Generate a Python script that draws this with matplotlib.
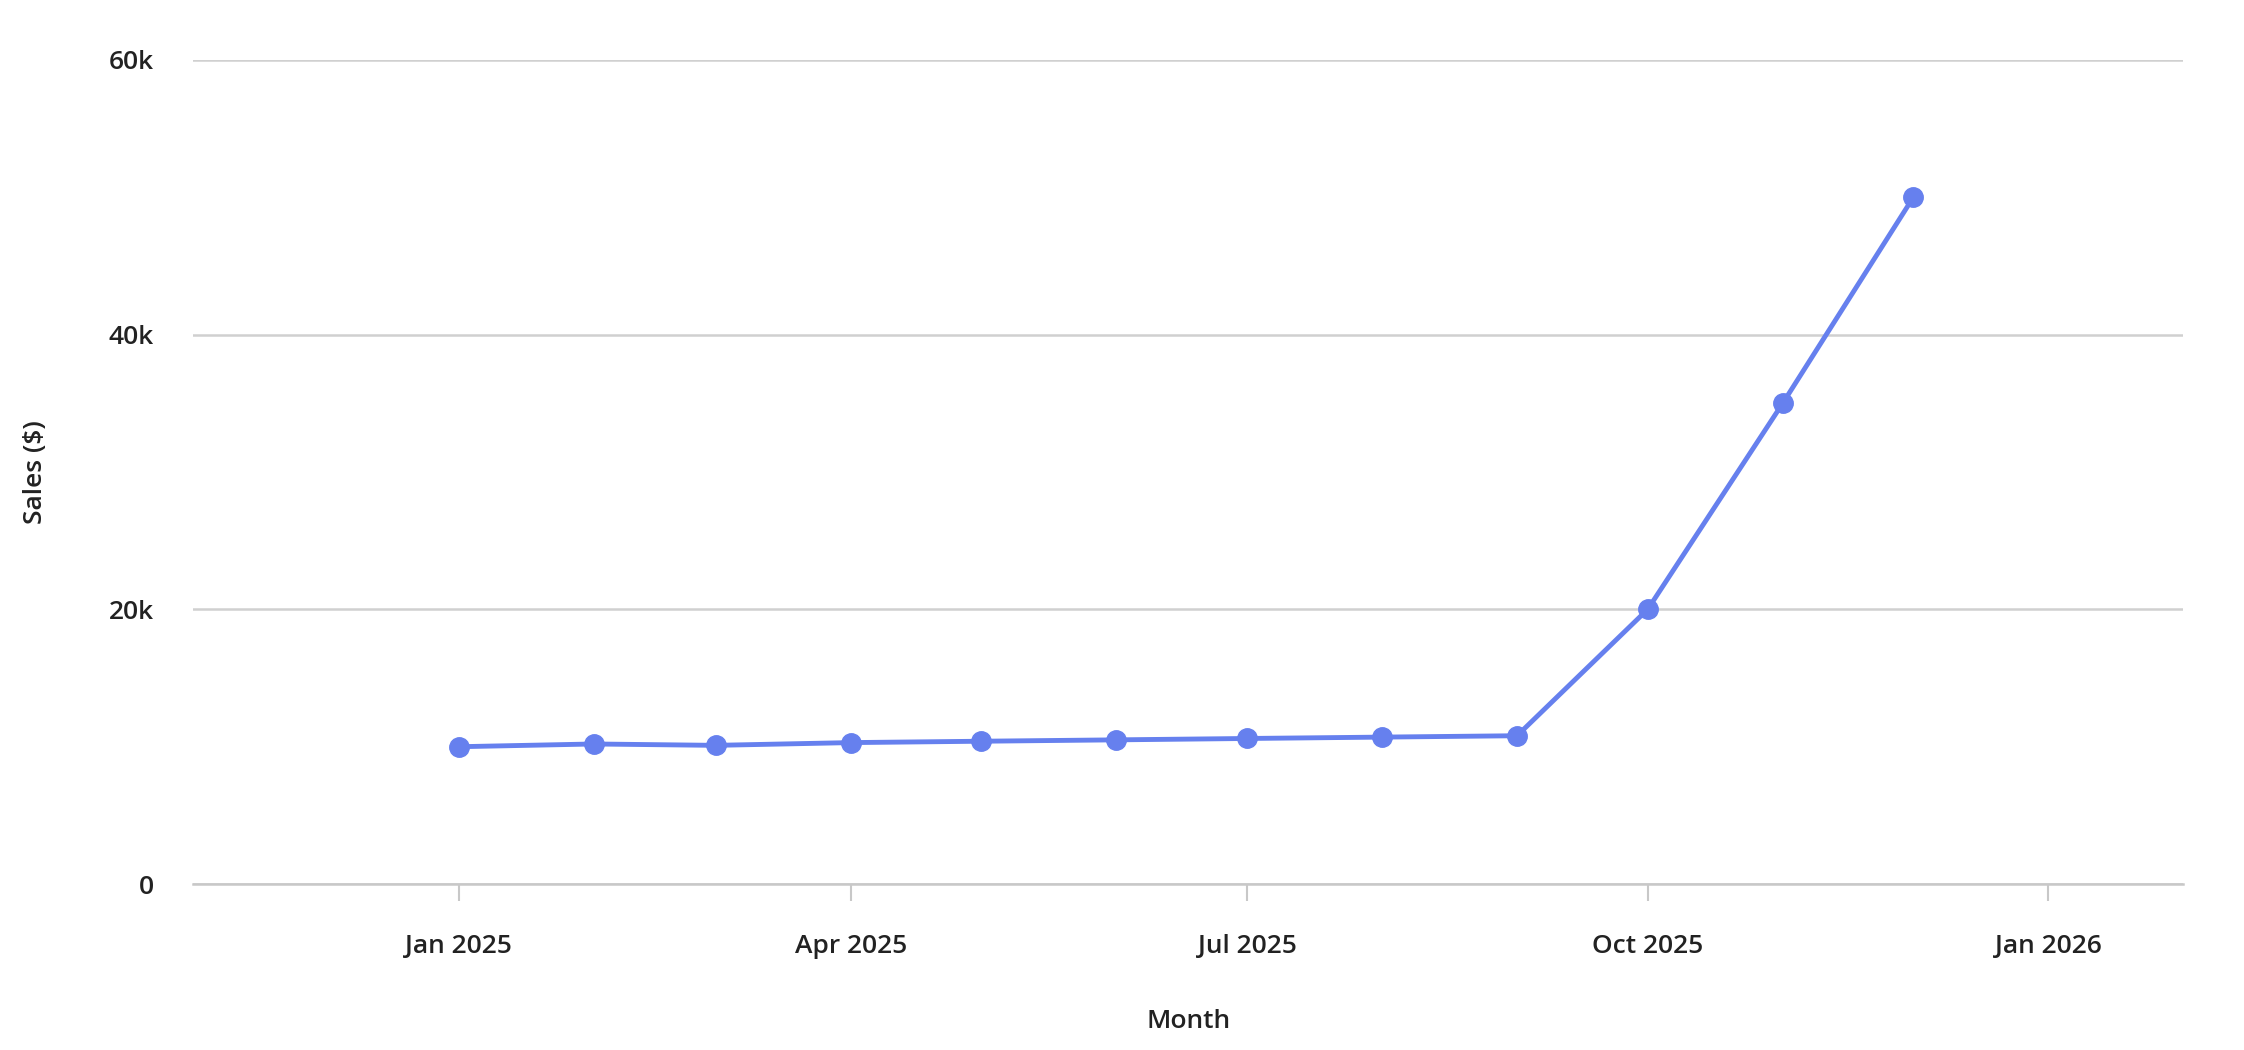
import matplotlib
matplotlib.use("Agg")
import matplotlib.pyplot as plt
from datetime import date

plt.rcParams['font.family'] = ['Open Sans', 'DejaVu Sans']
plt.rcParams['font.weight'] = 'semibold'

months = [date(2025, m, 1) for m in range(1, 13)]
sales = [10000, 10200, 10100, 10300, 10400, 10500, 10600, 10700, 10800, 20000, 35000, 50000]
tick_dates = [date(2025, 1, 1), date(2025, 4, 1), date(2025, 7, 1), date(2025, 10, 1), date(2026, 1, 1)]
tick_labels = ["Jan 2025", "Apr 2025", "Jul 2025", "Oct 2025", "Jan 2026"]
y_ticks = [0, 20000, 40000, 60000]
y_labels = ["0", "20k", "40k", "60k"]

fig = plt.figure(figsize=(22.44, 10.5), dpi=100)
ax = fig.add_axes([0.086, 0.158, 0.887, 0.785])

ax.plot(months, sales, color="#6680ee", linewidth=3.5, marker="o", markersize=14, zorder=3)

ax.set_xlim(date(2024, 11, 1), date(2026, 2, 1))
ax.set_ylim(0, 60000)
ax.set_xticks(tick_dates)
ax.set_xticklabels(tick_labels, fontweight="semibold")
ax.set_yticks(y_ticks)
ax.set_yticklabels(y_labels, fontweight="semibold")

ax.grid(axis="y", color="#d0d0d0", linewidth=1.8)
ax.set_axisbelow(True)
for s in ["top", "right", "left"]:
    ax.spines[s].set_visible(False)
ax.spines["bottom"].set_color("#c8c8c8")
ax.spines["bottom"].set_linewidth(1.8)
ax.tick_params(axis="y", length=0, pad=28, labelsize=19, labelcolor="#222222")
ax.tick_params(axis="x", length=12, width=1.5, color="#c8c8c8", pad=24, labelsize=19, labelcolor="#222222")

ax.set_xlabel("Month", fontsize=19, fontweight="semibold", color="#222222", labelpad=36)
ax.set_ylabel("Sales ($)", fontsize=19, fontweight="semibold", color="#222222", labelpad=44)

fig.savefig("out.png", dpi=100, facecolor="white")
